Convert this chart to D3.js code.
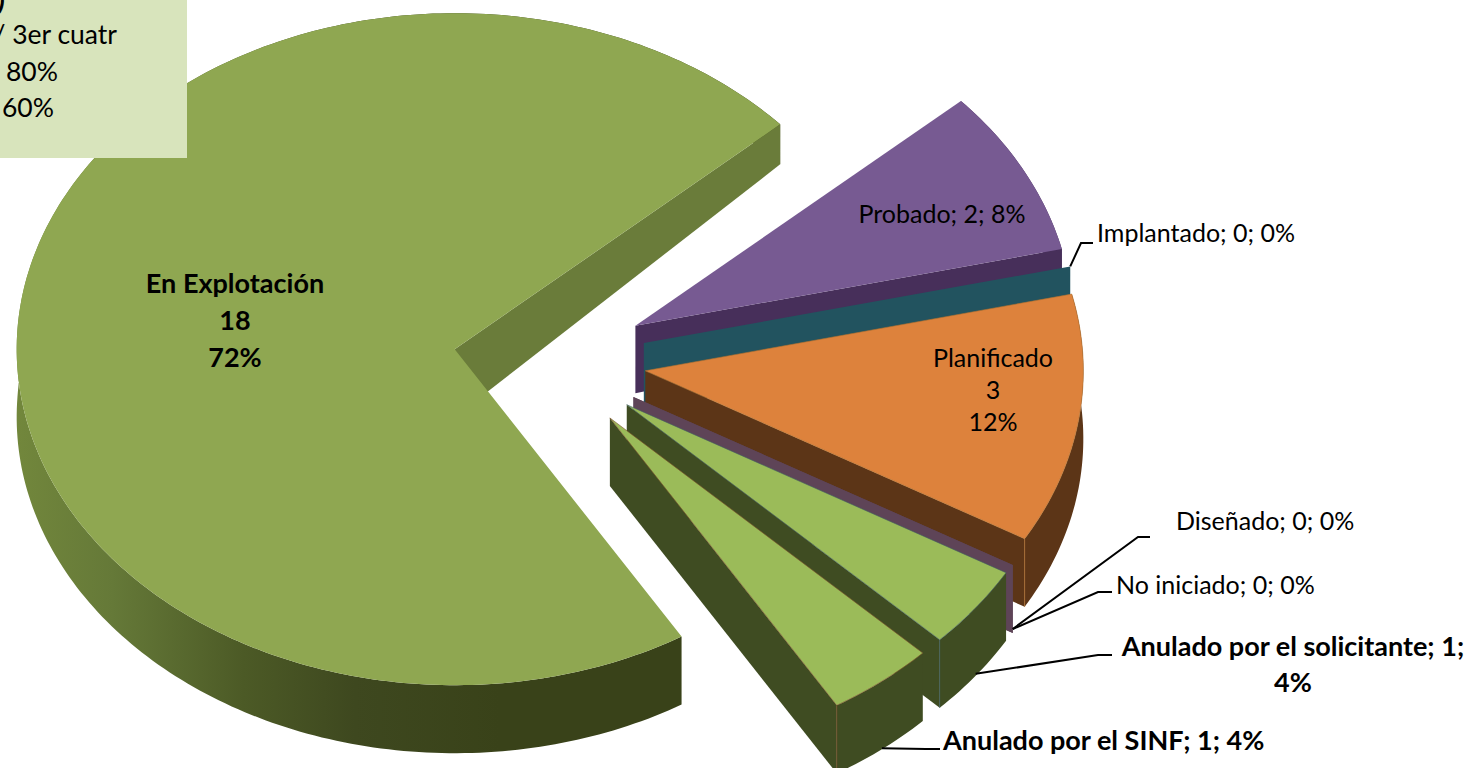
<!DOCTYPE html>
<html><head><meta charset="utf-8">
<script src="https://cdn.jsdelivr.net/npm/d3@7/dist/d3.min.js"></script>
<style>html,body{margin:0;padding:0;background:#fff;overflow:hidden}svg{display:block}text{font-family:Lato,"Open Sans",sans-serif;fill:#000}</style>
</head><body><div id="chart"></div>
<script>
// --- data
const categories = ["En Explotación","Probado","Implantado","Planificado","Diseñado","No iniciado","Anulado por el solicitante","Anulado por el SINF"];
const values = [18,2,0,3,0,0,1,1];
const boxRows = ["3er cuatr","80%","60%"];

// --- styling / layout
const W=1473,H=768;
const topColors  = ["#8FA751","#775A92","#22535F","#DD823C","#5E4457","#5E4457","#9BBB59","#9BBB59"];
const sideColors = ["#6A7C3A","#472F5A","#22535F","#5C3517","#5E4457","#5E4457","#3F4C22","#3F4C22"];
const edgeColors = [null,null,null,"#B0702F",null,null,"#3F5F5F","#7A4F2A"];
const cx=550, cy=360, rx=438, ry=336, explode=0.22;
const rad=d=>d*Math.PI/180;
const start=rad(148.8);
const sx=d3.scaleLinear([-1,1],[cx-rx,cx+rx]);
const sy=d3.scaleLinear([-1,1],[cy+ry,cy-ry]);
const depth=d3.scaleLinear([125,330],[40,68]).clamp(true);

const svg=d3.select("#chart").append("svg").attr("width",W).attr("height",H);
const defs=svg.append("defs");
const grad=defs.append("linearGradient").attr("id","bigWall").attr("gradientUnits","userSpaceOnUse")
  .attr("x1",16).attr("x2",500).attr("y1",0).attr("y2",0);
[[0,"#72873C"],[0.2,"#657938"],[0.47,"#4C5A26"],[0.7,"#3E481F"],[1,"#394219"]]
  .forEach(s=>grad.append("stop").attr("offset",s[0]).attr("stop-color",s[1]));

const pie=d3.pie().sort(null).value(d=>d).startAngle(start).endAngle(start+2*Math.PI);
const arcs=pie(values);
const line=d3.line();
const total=d3.sum(values);
const pct=d3.format(".0%");

function pt(a,mid,r){
  return [sx(explode*Math.sin(mid)+r*Math.sin(a)), sy(explode*Math.cos(mid)+r*Math.cos(a))];
}
const drop=p=>[p[0],p[1]+depth(p[1])];
function sample(a0,a1){
  const n=Math.max(2,Math.ceil((a1-a0)/rad(1)));
  return d3.range(n+1).map(i=>a0+(a1-a0)*i/n);
}
const layer=svg.append("g");
arcs.forEach((d,i)=>{
  const a0=d.startAngle,a1=d.endAngle,mid=(a0+a1)/2;
  const g=layer.append("g").attr("class","slice");
  const apex=pt(mid,mid,0);
  const wall=a=>{
    const o=pt(a,mid,1);
    return [apex,o,drop(o),drop(apex)];
  };
  if(a1>a0){
    const rim=sample(a0,a1).map(a=>pt(a,mid,1));
    g.append("path").attr("d",line(rim.concat(rim.map(drop).reverse()))+"Z")
      .attr("fill",i===0?"url(#bigWall)":sideColors[i]);
    g.append("path").attr("d",line(wall(i===0?a1:(i===1?a1:a1)))+"Z").attr("fill",sideColors[i]);
    if(edgeColors[i]) {
      const o=pt(a1,mid,1);
      g.append("path").attr("d",line([o,drop(o)])).attr("stroke",edgeColors[i]).attr("fill","none").attr("stroke-width",0.8);
    }
    g.append("path").attr("d",line([apex].concat(rim))+"Z").attr("fill",topColors[i])
      .attr("stroke",edgeColors[i]||"none").attr("stroke-width",edgeColors[i]?0.6:0);
  } else {
    g.append("path").attr("d",line(wall(a0))+"Z").attr("fill",sideColors[i]);
  }
});

// --- leader lines: start on the slice, then elbows towards the labels
const leaders=[
 {i:2,r:1.0,dy:0,pts:[[1081,243],[1093,243]]},
 {i:4,r:1.0,dy:64,pts:[[1138,537],[1150,537]]},
 {i:5,r:1.0,dy:64,pts:[[1098,592],[1112,592]]},
 {i:6,a:0.5,r:1.0,dy:66,pts:[[1098,655],[1112,655]]},
 {i:7,a:0.5,r:1.0,dy:67,pts:[[926,749],[940,749]]}
];
leaders.forEach(l=>{
  const d=arcs[l.i],mid=(d.startAngle+d.endAngle)/2;
  const a=l.a===undefined?mid:d.startAngle+(d.endAngle-d.startAngle)*l.a;
  const p=pt(a,mid,l.r);
  svg.append("path").attr("d",line([[p[0],p[1]+l.dy]].concat(l.pts)))
    .attr("fill","none").attr("stroke","#000").attr("stroke-width",2);
});

// --- labels
const triple=i=>[categories[i],String(values[i]),pct(values[i]/total)];
const inline=i=>triple(i).join("; ");
function label(lines,x,y,opt={}){
  const t=svg.append("text").attr("text-anchor",opt.anchor||"middle")
    .attr("font-size",opt.size||25).attr("font-weight",opt.bold?700:400);
  lines.forEach((s,k)=>t.append("tspan").attr("x",x).attr("y",y+k*(opt.step||0)).text(s));
}
label(triple(0),235,293,{bold:true,size:27,step:37});
label([inline(1)],942,223);
label([inline(2)],1097,242,{anchor:"start"});
label(triple(3),993,367,{step:32});
label([inline(4)],1176,530,{anchor:"start"});
label([inline(5)],1116,594,{anchor:"start"});
const solic=inline(6).split(" ");
label([solic.slice(0,-1).join(" "),solic[solic.length-1]],1293,656,{bold:true,size:27,step:36});
label([inline(7)],943,750,{bold:true,size:27,anchor:"start"});

// --- cropped text box
svg.append("rect").attr("x",0).attr("y",0).attr("width",187).attr("height",158).attr("fill","#D8E4BC");
label([")"],5,9,{bold:true,size:28,anchor:"end"});
label(["/ "+boxRows[0]],117,44,{size:26.5,anchor:"end"});
label([boxRows[1]],6,81,{size:26.5,anchor:"start"});
label([boxRows[2]],2,117,{size:26.5,anchor:"start"});
</script></body></html>
